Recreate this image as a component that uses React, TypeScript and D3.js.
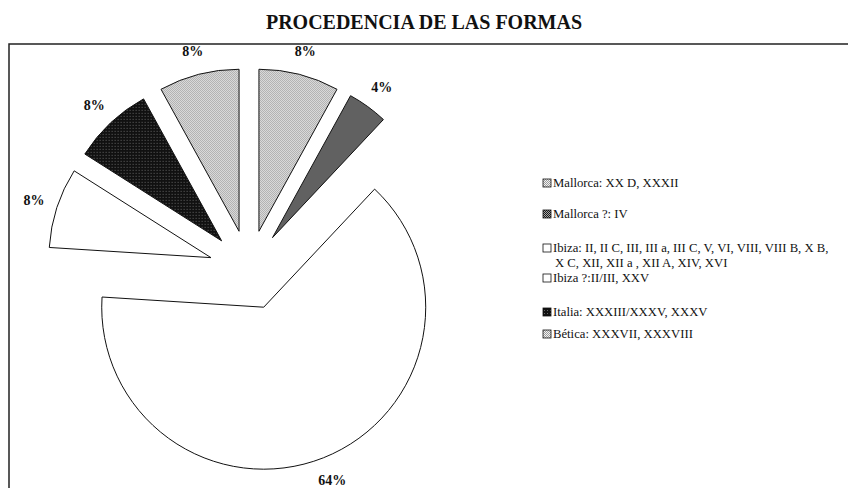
import { useEffect, useRef } from "react";
import * as d3 from "d3";

// Slices, clockwise from 12 o'clock
const CATEGORIES = ["Mallorca", "Mallorca ?", "Ibiza", "Ibiza ?", "Italia", "Bética"];
const VALUES = [8, 4, 64, 8, 8, 8];
const PERCENT_LABELS = ["8%", "4%", "64%", "8%", "8%", "8%"];
const LEGEND_LINES = [
  ["Mallorca: XX D, XXXII"],
  ["Mallorca ?: IV"],
  [
    "Ibiza: II, II C, III, III a, III C, V, VI, VIII, VIII B, X B,",
    "X C, XII, XII a , XII A, XIV, XVI",
  ],
  ["Ibiza ?:II/III, XXV"],
  ["Italia: XXXIII/XXXV, XXXV"],
  ["Bética: XXXVII, XXXVIII"],
];

const WIDTH = 848;
const HEIGHT = 488;
const CX = 249;
const CY = 270;
const RADIUS = 162;
const EXPLODE = 40;
const LABEL_RADIUS = 226;
const SERIF = '"Liberation Serif", "Times New Roman", serif';
const FILLS = [
  "url(#pat-light)",
  "url(#pat-mid)",
  "#ffffff",
  "#ffffff",
  "url(#pat-dark)",
  "url(#pat-light)",
];
const LEGEND_Y = [187, 218, 252, 282, 316, 338];

export default function App() {
  const svgRef = useRef<SVGSVGElement>(null);

  useEffect(() => {
    if (!svgRef.current) return;
    const svg = d3.select(svgRef.current);
    svg.selectAll("*").remove();

    // stipple patterns like the old printed greys
    const defs = svg.append("defs");
    const makePattern = (
      id: string,
      size: number,
      bg: string,
      dots: [number, number][],
      dotColor: string
    ) => {
      const p = defs
        .append("pattern")
        .attr("id", id)
        .attr("patternUnits", "userSpaceOnUse")
        .attr("width", size)
        .attr("height", size);
      p.append("rect")
        .attr("width", size)
        .attr("height", size)
        .attr("fill", bg)
        .attr("shape-rendering", "crispEdges");
      dots.forEach(([x, y]) => {
        p.append("rect")
          .attr("x", x)
          .attr("y", y)
          .attr("width", 1)
          .attr("height", 1)
          .attr("fill", dotColor)
          .attr("shape-rendering", "crispEdges");
      });
    };
    makePattern("pat-light", 2, "#f2f2f2", [[0, 0], [1, 1]], "#9a9a9a");
    makePattern("pat-mid", 2, "#a8a8a8", [[0, 0], [1, 1]], "#1a1a1a");
    makePattern("pat-dark", 3, "#111111", [[1, 1]], "#666666");

    // title
    svg
      .append("text")
      .attr("x", WIDTH / 2)
      .attr("y", 29)
      .attr("text-anchor", "middle")
      .attr("font-family", SERIF)
      .attr("font-size", "20px")
      .attr("font-weight", "bold")
      .attr("fill", "#111")
      .text("PROCEDENCIA DE LAS FORMAS");

    // frame (runs off the right and bottom of the page)
    svg
      .append("rect")
      .attr("x", 9)
      .attr("y", 44)
      .attr("width", WIDTH + 20)
      .attr("height", HEIGHT)
      .attr("fill", "none")
      .attr("stroke", "#222")
      .attr("stroke-width", 1.5);

    const pie = d3
      .pie<number>()
      .sort(null)
      .value((d) => d);
    const arcs = pie(VALUES);
    const arc = d3
      .arc<d3.PieArcDatum<number>>()
      .innerRadius(0)
      .outerRadius(RADIUS);

    const g = svg.append("g").attr("transform", `translate(${CX},${CY})`);

    arcs.forEach((a, i) => {
      const mid = (a.startAngle + a.endAngle) / 2;
      const dx = EXPLODE * Math.sin(mid);
      const dy = -EXPLODE * Math.cos(mid);
      g.append("path")
        .attr("d", arc(a) as string)
        .attr("transform", `translate(${dx},${dy})`)
        .attr("fill", FILLS[i])
        .attr("stroke", "#111")
        .attr("stroke-width", 1)
        .attr("stroke-linejoin", "miter");

      g.append("text")
        .attr("x", LABEL_RADIUS * Math.sin(mid))
        .attr("y", -LABEL_RADIUS * Math.cos(mid))
        .attr("dy", "0.35em")
        .attr("text-anchor", "middle")
        .attr("font-family", SERIF)
        .attr("font-size", "14px")
        .attr("font-weight", "bold")
        .attr("fill", "#111")
        .text(PERCENT_LABELS[i]);
    });

    // legend
    const legend = svg.append("g");
    CATEGORIES.forEach((_, i) => {
      const y = LEGEND_Y[i];
      legend
        .append("rect")
        .attr("x", 543)
        .attr("y", y - 8)
        .attr("width", 8)
        .attr("height", 8)
        .attr("fill", FILLS[i])
        .attr("stroke", "#111")
        .attr("stroke-width", 0.8);
      LEGEND_LINES[i].forEach((line, j) => {
        legend
          .append("text")
          .attr("x", j === 0 ? 553 : 555)
          .attr("y", y + j * 15)
          .attr("font-family", SERIF)
          .attr("font-size", "12.7px")
          .attr("fill", "#111")
          .text(line);
      });
    });
  }, []);

  return (
    <svg
      ref={svgRef}
      width={WIDTH}
      height={HEIGHT}
      style={{ position: "absolute", left: 0, top: 0, background: "#fff" }}
    />
  );
}
